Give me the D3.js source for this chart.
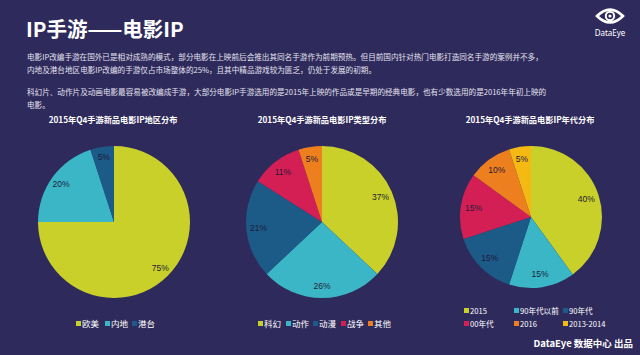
<!DOCTYPE html>
<html><head><meta charset="utf-8">
<script src="https://cdn.jsdelivr.net/npm/d3@7"></script>
<style>
html,body{margin:0;padding:0;background:#2f2a5c;}
svg{display:block;font-family:"Noto Sans CJK SC","Noto Sans",sans-serif;}
</style></head><body>
<svg id="c" width="640" height="355"></svg>
<script>
const regionCats = ["欧美","内地","港台"];
const regionVals = [75,20,5];
const typeCats = ["科幻","动作","动漫","战争","其他"];
const typeVals = [37,26,21,11,5];
const eraCats = ["2015","90年代以前","90年代","00年代","2016","2013-2014"];
const eraVals = [40,15,15,15,10,5];
const palette = ["#c9d02a","#3bb6c6","#1c5a87","#d41f55","#ee7f1e","#f5b914"];
const titles = ["2015年Q4手游新品电影IP地区分布","2015年Q4手游新品电影IP类型分布","2015年Q4手游新品电影IP年代分布"];
const paragraph = [
 "电影IP改编手游在国外已是相对成熟的模式，部分电影在上映前后会推出其同名手游作为前期预热。但目前国内针对热门电影打造同名手游的案例并不多，",
 "内地及港台地区电影IP改编的手游仅占市场整体的25%，且其中精品游戏较为匮乏，仍处于发展的初期。",
 "科幻片、动作片及动画电影最容易被改编成手游，大部分电影IP手游选用的是2015年上映的作品或是早期的经典电影，也有少数选用的是2016年年初上映的",
 "电影。"
];

const svg = d3.select("#c");
svg.append("rect").attr("width",640).attr("height",355).attr("fill","#2f2a5c");

svg.append("text").attr("x",26).attr("y",37).attr("fill","#ffffff")
  .attr("font-size",20.5).attr("font-weight","bold").text("IP手游——电影IP");

const py = [60,73,95,108];
paragraph.forEach((t,i)=>{
  svg.append("text").attr("x",27).attr("y",py[i]).attr("fill","#e4e3ef")
    .attr("font-size",7.6).text(t);
});

// logo
const lg = svg.append("g").attr("transform","translate(610,16)");
lg.append("path").attr("d","M-13,0 Q0,-13 13,0 Q0,13 -13,0 Z").attr("fill","none").attr("stroke","#fff").attr("stroke-width",2.6);
lg.append("circle").attr("r",4.2).attr("fill","none").attr("stroke","#fff").attr("stroke-width",2);
lg.append("circle").attr("r",1.6).attr("fill","#fff");
svg.append("text").attr("x",610).attr("y",36).attr("text-anchor","middle").attr("fill","#fff")
  .attr("font-size",8).attr("font-family","Noto Sans, sans-serif").text("DataEye");

function pieChart(cats, vals, cx, cy, r, lr){
  const pie = d3.pie().sort(null).value(d=>d.v);
  const data = pie(cats.map((c,i)=>({c, v: vals[i], i})));
  const arc = d3.arc().innerRadius(0).outerRadius(r);
  const la = d3.arc().innerRadius(r*lr).outerRadius(r*lr);
  const g = svg.append("g").attr("transform",`translate(${cx},${cy})`);
  g.selectAll("path").data(data).join("path").attr("d",arc).attr("fill",d=>palette[d.data.i]);
  g.selectAll("text").data(data).join("text")
    .attr("transform",d=>`translate(${la.centroid(d)})`)
    .attr("text-anchor","middle").attr("dy","0.35em")
    .attr("font-size",8.5).attr("fill","#1d1b3a")
    .attr("font-family","Liberation Sans, sans-serif")
    .text(d=>d.data.v+"%");
}

pieChart(regionCats, regionVals, 114, 222, 76, 0.86);
pieChart(typeCats, typeVals, 322, 222, 76, 0.84);
pieChart(eraCats, eraVals, 531, 217, 71, 0.82);

const titleX = [113,322,530];
titles.forEach((t,i)=>{
  svg.append("text").attr("x",titleX[i]).attr("y",123).attr("text-anchor","middle")
    .attr("fill","#ffffff").attr("font-size",8.2).attr("font-weight","bold").text(t);
});

function legend(cats, positions, fs){
  cats.forEach((c,i)=>{
    const [x,y] = positions[i];
    svg.append("rect").attr("x",x).attr("y",y-3).attr("width",5).attr("height",5).attr("fill",palette[i]);
    svg.append("text").attr("x",x+6).attr("y",y+2.5).attr("fill","#ffffff").attr("font-size",fs).text(c);
  });
}
legend(regionCats, [[76,324],[105,324],[132,324]], 8.5);
legend(typeCats, [[258,324],[286,324],[313,324],[341,324],[368,324]], 8.5);
legend(eraCats, [[464,311],[514,311],[563,311],[464,324],[514,324],[563,324]], 7.6);

svg.append("text").attr("x",633).attr("y",347).attr("text-anchor","end").attr("fill","#ffffff")
  .attr("font-size",9.5).attr("font-weight","bold").text("DataEye 数据中心 出品");
</script>
</body></html>
